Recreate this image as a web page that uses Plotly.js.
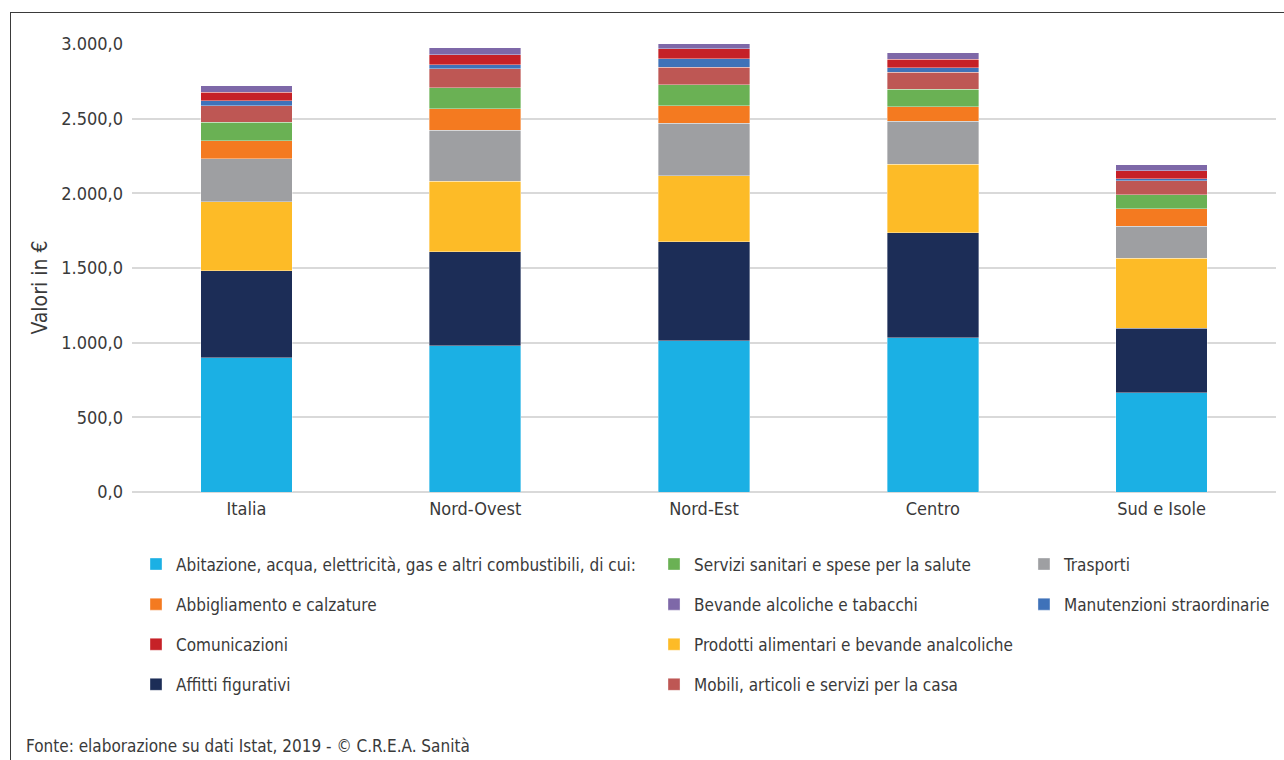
<!DOCTYPE html>
<html>
<head>
<meta charset="utf-8">
<script src="https://cdn.plot.ly/plotly-3.0.1.min.js"></script>
<style>
  html, body { margin: 0; padding: 0; background: #ffffff; }
  #wrap { position: relative; width: 1284px; height: 760px; overflow: hidden; }
  #frame { position: absolute; left: 10px; top: 12px; width: 1400px; height: 900px;
           border-left: 1.5px solid #3a3a3a; border-top: 1.5px solid #3a3a3a; }
  #chart { position: absolute; left: 0; top: 0; width: 1284px; height: 760px; }
</style>
</head>
<body>
<div id="wrap">
  <div id="frame"></div>
  <div id="chart"></div>
</div>
<script>
// Spesa media mensile familiare per ripartizione (euro)
const categorie = ['Italia', 'Nord-Ovest', 'Nord-Est', 'Centro', 'Sud e Isole'];

const abitazione    = [899, 981, 1014, 1033, 666];
const affitti       = [584, 629, 663, 703, 429];
const alimentari    = [462, 472, 442, 459, 471];
const trasporti     = [286, 341, 351, 288, 212];
const abbigliamento = [121, 143, 116, 96, 118];
const sanitari      = [124, 141, 141, 118, 96];
const mobili        = [110, 127, 117, 114, 92];
const manutenzioni  = [33, 28, 57, 29, 13];
const comunicazioni = [58, 65, 67, 58, 54];
const bevande       = [45, 47, 33, 45, 42];

const nomi = {
  abitazione: 'Abitazione, acqua, elettricità, gas e altri combustibili, di cui:',
  affitti: 'Affitti figurativi',
  alimentari: 'Prodotti alimentari e bevande analcoliche',
  trasporti: 'Trasporti',
  abbigliamento: 'Abbigliamento e calzature',
  sanitari: 'Servizi sanitari e spese per la salute',
  mobili: 'Mobili, articoli e servizi per la casa',
  manutenzioni: 'Manutenzioni straordinarie',
  comunicazioni: 'Comunicazioni',
  bevande: 'Bevande alcoliche e tabacchi'
};

const FONT = '"DejaVu Sans Condensed", "Liberation Sans Narrow", sans-serif';
const TXT = '#3a3a3a';

// serie in ordine di impilamento (dal basso), con colonna e riga della legenda
const serie = [
  { y: abitazione,    nome: nomi.abitazione,    colore: '#1bb0e4', legenda: 'legend',  rank: 1 },
  { y: affitti,       nome: nomi.affitti,       colore: '#1c2d57', legenda: 'legend',  rank: 4 },
  { y: alimentari,    nome: nomi.alimentari,    colore: '#fdbb27', legenda: 'legend2', rank: 3 },
  { y: trasporti,     nome: nomi.trasporti,     colore: '#9e9fa2', legenda: 'legend3', rank: 1 },
  { y: abbigliamento, nome: nomi.abbigliamento, colore: '#f47a20', legenda: 'legend',  rank: 2 },
  { y: sanitari,      nome: nomi.sanitari,      colore: '#6ab154', legenda: 'legend2', rank: 1 },
  { y: mobili,        nome: nomi.mobili,        colore: '#be5754', legenda: 'legend2', rank: 4 },
  { y: manutenzioni,  nome: nomi.manutenzioni,  colore: '#3f72b9', legenda: 'legend3', rank: 2 },
  { y: comunicazioni, nome: nomi.comunicazioni, colore: '#c62127', legenda: 'legend',  rank: 3 },
  { y: bevande,       nome: nomi.bevande,       colore: '#7e68a8', legenda: 'legend2', rank: 2 }
];

const traces = serie.map(s => ({
  type: 'bar',
  x: categorie,
  y: s.y,
  name: s.nome,
  legend: s.legenda,
  legendgroup: s.nome,
  legendrank: s.rank,
  marker: { color: s.colore, line: { color: 'rgba(255,255,255,0.6)', width: 0.6 } },
  hoverinfo: 'x+y+name'
}));

const legendBase = {
  orientation: 'v',
  xanchor: 'left',
  yanchor: 'top',
  y: -0.1216,
  bgcolor: 'rgba(0,0,0,0)',
  borderwidth: 0,
  tracegroupgap: 15,
  traceorder: 'grouped',
  font: { family: FONT, size: 17, color: TXT }
};

const layout = {
  width: 1284,
  height: 760,
  margin: { l: 132, r: 8, t: 44, b: 268, autoexpand: false },
  paper_bgcolor: 'rgba(0,0,0,0)',
  plot_bgcolor: 'rgba(0,0,0,0)',
  barmode: 'stack',
  bargap: 0.6,
  separators: ',.',
  font: { family: FONT, size: 18, color: TXT },
  xaxis: {
    type: 'category',
    showgrid: false,
    zeroline: false,
    showline: false,
    ticks: '',
    tickfont: { family: FONT, size: 18, color: TXT },
    ticklabelstandoff: 4
  },
  yaxis: {
    range: [0, 3000],
    tickvals: [0, 500, 1000, 1500, 2000, 2500, 3000],
    tickformat: ',.1f',
    showgrid: true,
    gridcolor: '#d9d9d9',
    gridwidth: 2,
    zeroline: true,
    zerolinecolor: '#d9d9d9',
    zerolinewidth: 2,
    showline: false,
    ticks: '',
    ticklabelstandoff: 8,
    tickfont: { family: FONT, size: 18, color: TXT }
  },
  legend:  Object.assign({}, legendBase, { x: 0.0035 }),
  legend2: Object.assign({}, legendBase, { x: 0.4563 }),
  legend3: Object.assign({}, legendBase, { x: 0.7797 }),
  annotations: [
    {
      text: 'Valori in €',
      xref: 'paper', yref: 'paper',
      x: -0.0804, y: 0.4565,
      xanchor: 'center', yanchor: 'middle',
      textangle: -90,
      showarrow: false,
      font: { family: FONT, size: 21, color: TXT }
    },
    {
      text: 'Fonte: elaborazione su dati Istat, 2019 - © C.R.E.A. Sanità',
      xref: 'paper', yref: 'paper',
      x: (24 - 132) / 1144, y: -(745 - 491.5) / 448,
      xanchor: 'left', yanchor: 'middle',
      showarrow: false,
      font: { family: FONT, size: 17, color: TXT }
    }
  ]
};

Plotly.newPlot('chart', traces, layout, { displayModeBar: false, responsive: false });
</script>
</body>
</html>
